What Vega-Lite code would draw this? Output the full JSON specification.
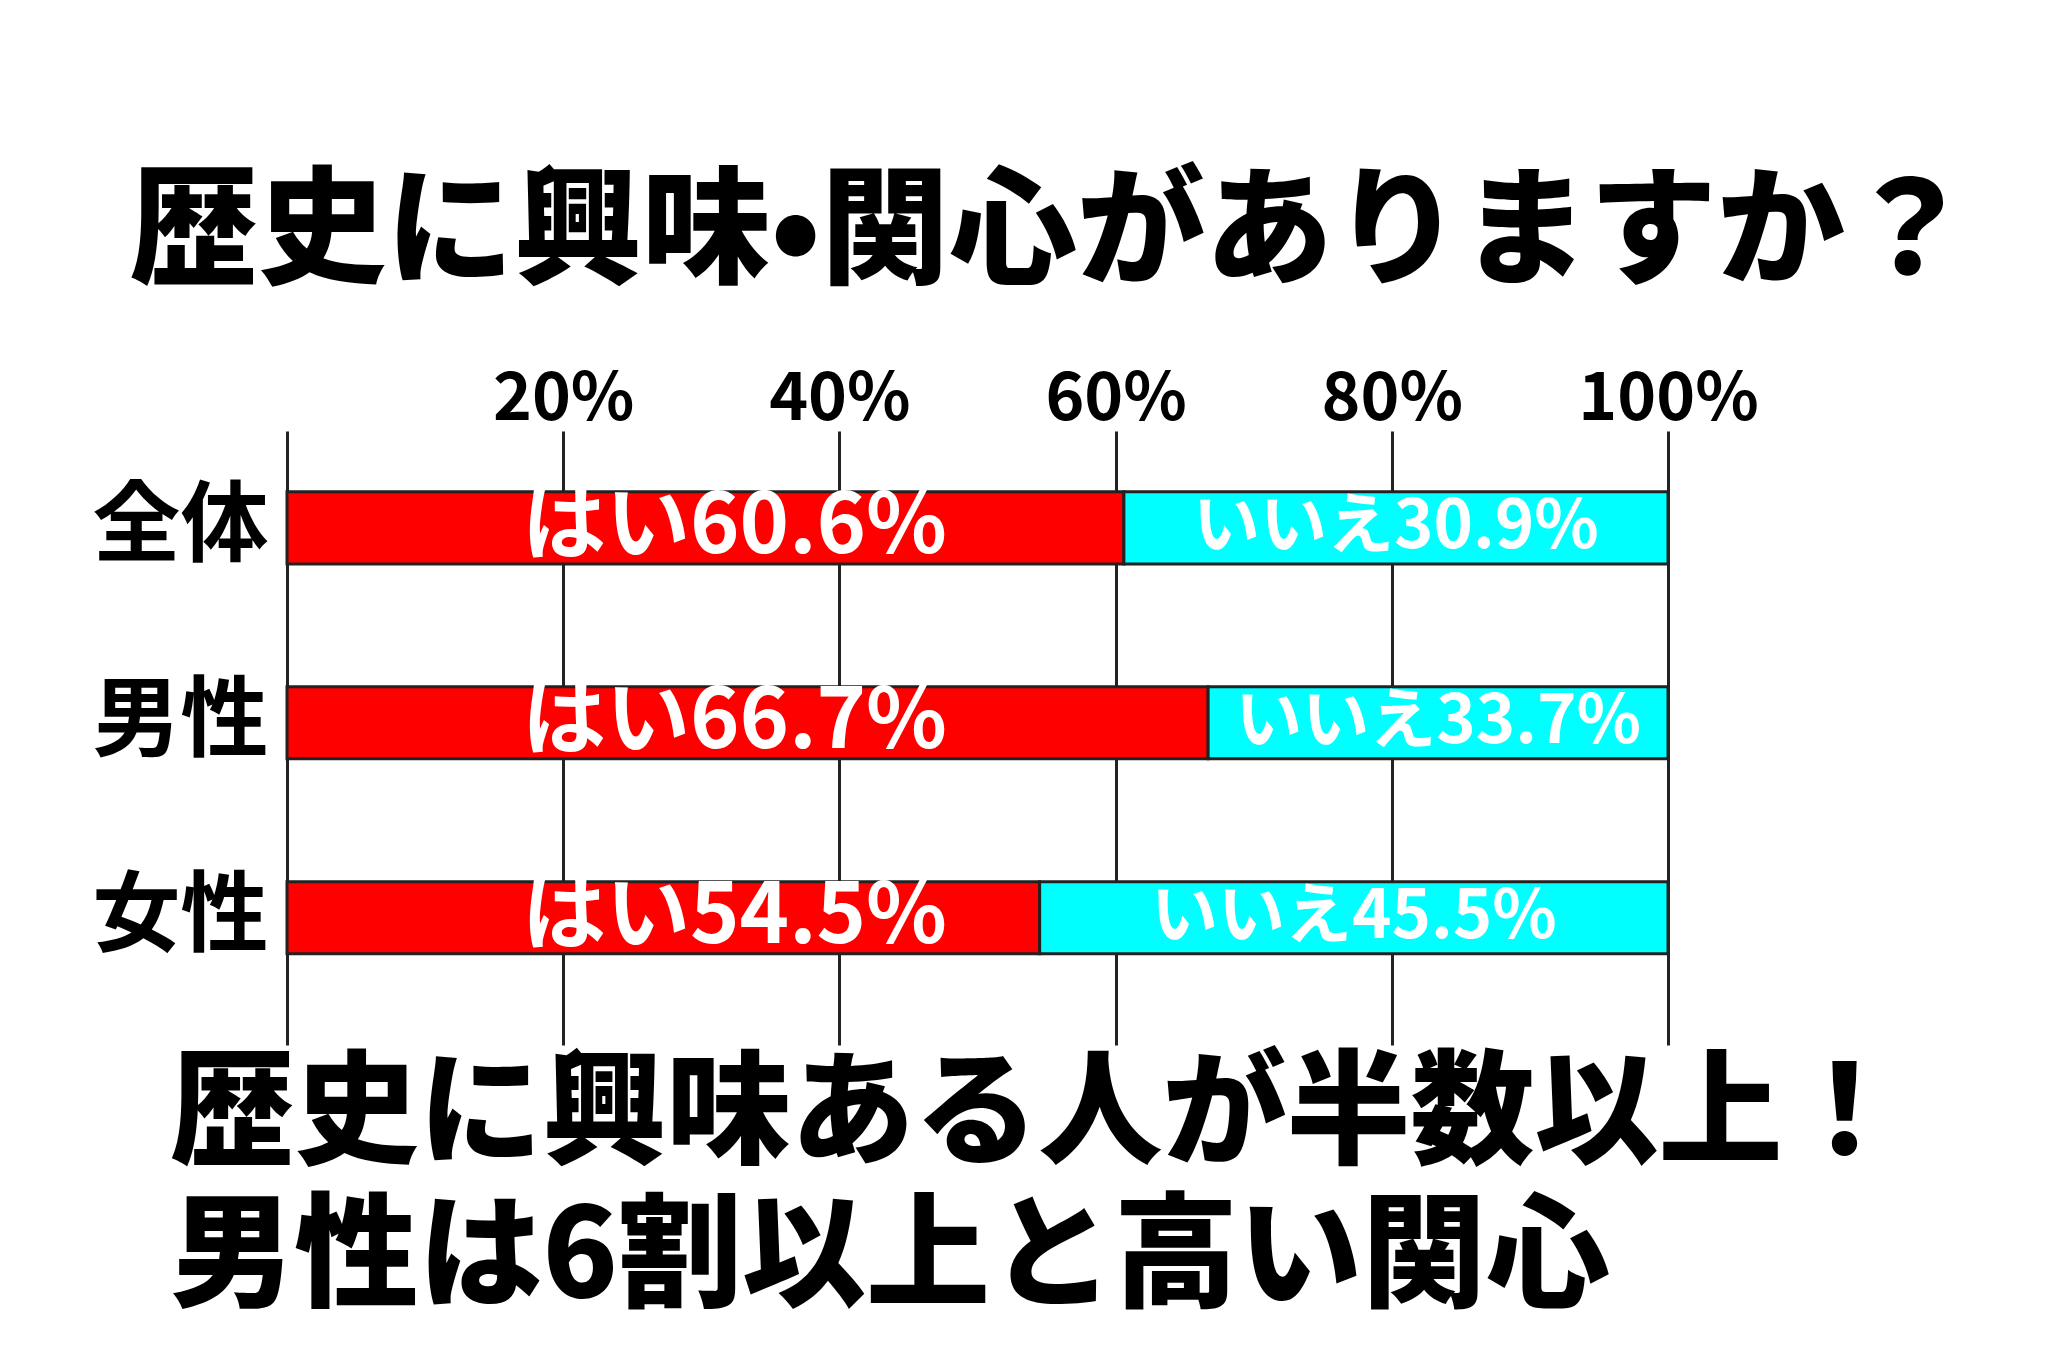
{
  "$schema": "https://vega.github.io/schema/vega-lite/v6.json",
  "width": 1381,
  "height": 614,
  "autosize": "none",
  "padding": {"left": 287, "top": 431, "right": 380, "bottom": 319},
  "background": "white",
  "config": {"view": {"stroke": null}, "font": "Noto Sans CJK JP"},
  "data": {"values": [
    {"group": "全体", "yes": 60.6, "no": 30.9},
    {"group": "男性", "yes": 66.7, "no": 33.7},
    {"group": "女性", "yes": 54.5, "no": 45.5}
  ]},
  "transform": [
    {"calculate": "'はい' + format(datum.yes, '.1f') + '%'", "as": "yesLabel"},
    {"calculate": "'いいえ' + format(datum.no, '.1f') + '%'", "as": "noLabel"},
    {"calculate": "(datum.yes + 100) / 2", "as": "noMid"}
  ],
  "encoding": {
    "y": {
      "field": "group",
      "type": "nominal",
      "sort": ["全体", "男性", "女性"],
      "scale": {"paddingInner": 0.63, "paddingOuter": 0.39, "align": 0.4},
      "axis": {
        "ticks": false,
        "domain": false,
        "grid": false,
        "labelFontSize": 88,
        "labelFontWeight": "bold",
        "labelColor": "black",
        "labelPadding": 19,
        "labelLimit": 0,
        "title": ["歴史に興味ある人が半数以上！", "男性は6割以上と高い関心"],
        "titleFontSize": 124,
        "titleFontWeight": 900,
        "titleColor": "black",
        "titleAngle": 0,
        "titleAlign": "left",
        "titleBaseline": "top",
        "titleX": -117,
        "titleY": 624,
        "titleLineHeight": 143,
        "titleLimit": 0
      }
    }
  },
  "layer": [
    {
      "mark": {"type": "bar", "color": "#ff0000", "stroke": "#222222", "strokeWidth": 3},
      "encoding": {
        "x": {
          "field": "yes",
          "type": "quantitative",
          "scale": {"domain": [0, 100], "nice": false},
          "axis": {
            "orient": "top",
            "values": [0, 20, 40, 60, 80, 100],
            "labelExpr": "datum.value == 0 ? '' : datum.value + '%'",
            "labelFlush": false,
            "labelOverlap": false,
            "labelLimit": 0,
            "grid": true,
            "gridColor": "#222222",
            "gridWidth": 3,
            "gridOpacity": 1,
            "ticks": false,
            "domain": false,
            "labelFontSize": 66,
            "labelFontWeight": "bold",
            "labelColor": "black",
            "labelBaseline": "alphabetic",
            "labelPadding": 12,
            "title": "歴史に興味•関心がありますか？",
            "titleFontSize": 128,
            "titleFontWeight": 900,
            "titleColor": "black",
            "titleX": 764,
            "titleY": -196,
            "titleAlign": "center",
            "titleBaseline": "middle",
            "titleAngle": 0,
            "titleLimit": 0
          }
        }
      }
    },
    {
      "mark": {"type": "bar", "color": "#00ffff", "stroke": "#222222", "strokeWidth": 3},
      "encoding": {
        "x": {"field": "yes", "type": "quantitative"},
        "x2": {"datum": 100}
      }
    },
    {
      "mark": {"type": "text", "color": "white", "fontSize": 84, "fontWeight": "bold", "baseline": "middle", "align": "center"},
      "encoding": {
        "x": {"datum": 32.4, "type": "quantitative"},
        "text": {"field": "yesLabel"}
      }
    },
    {
      "mark": {"type": "text", "color": "white", "fontSize": 67, "fontWeight": "bold", "baseline": "middle", "align": "center"},
      "encoding": {
        "x": {"field": "noMid", "type": "quantitative"},
        "text": {"field": "noLabel"}
      }
    }
  ]
}
